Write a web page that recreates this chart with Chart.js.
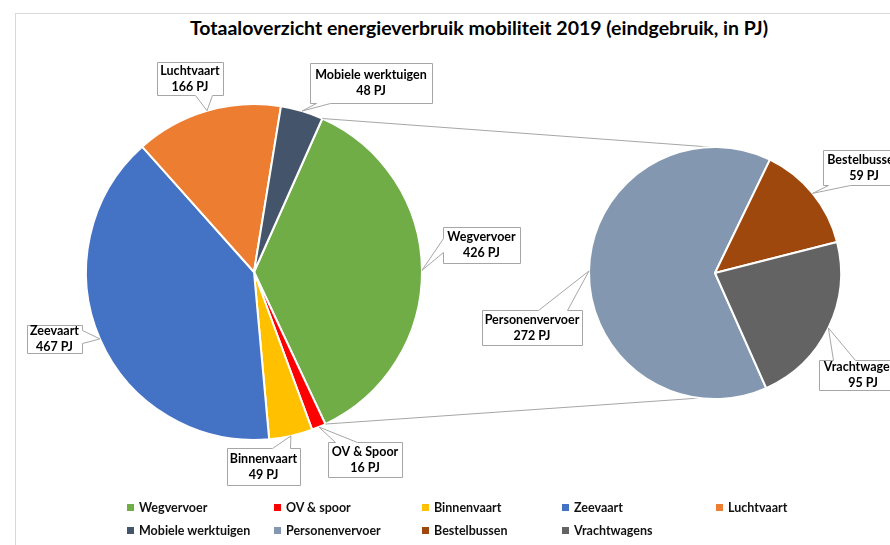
<!DOCTYPE html>
<html>
<head>
<meta charset="utf-8">
<script src="https://cdn.jsdelivr.net/npm/chart.js@4/dist/chart.umd.min.js"></script>
<style>
  html, body { margin: 0; padding: 0; background: #fff; }
  body { width: 890px; height: 545px; overflow: hidden; position: relative; font-family: Lato, "Liberation Sans", sans-serif; }
  #frame { position: absolute; left: 15px; top: 13px; width: 920px; height: 560px; border: 1px solid #d9d9d9; }
  #title { position: absolute; left: 0; top: 17px; width: 958px; text-align: center; font-weight: bold; font-size: 19.5px; line-height: 22px; color: #000; }
  canvas { position: absolute; left: 0; top: 0; }
  .item { position: absolute; font-size: 12.5px; font-weight: bold; line-height: 16px; color: #111; white-space: nowrap; }
  .item i { display: inline-block; width: 7px; height: 7px; margin-right: 5px; vertical-align: 1px; }
</style>
</head>
<body>
<div id="frame"></div>
<div id="title">Totaaloverzicht energieverbruik mobiliteit 2019 (eindgebruik, in PJ)</div>
<canvas id="mainPie" width="890" height="545"></canvas>
<canvas id="subPie" width="890" height="545"></canvas>
<div id="legend"></div>
<script>
// main pie
const mainLabels = ['Wegvervoer', 'OV & spoor', 'Binnenvaart', 'Zeevaart', 'Luchtvaart', 'Mobiele werktuigen'];
const mainCalloutNames = ['Wegvervoer', 'OV & Spoor', 'Binnenvaart', 'Zeevaart', 'Luchtvaart', 'Mobiele werktuigen'];
const mainValues = [426, 16, 49, 467, 166, 48];
const mainColors = ['#70AD47', '#FF0000', '#FFC000', '#4472C4', '#ED7D31', '#44546A'];

// split of Wegvervoer
const subLabels = ['Personenvervoer', 'Bestelbussen', 'Vrachtwagens'];
const subValues = [272, 59, 95];
const subColors = ['#8497B0', '#9E480E', '#636363'];

const unit = 'PJ';

// callout boxes: [x0, y0, x1, y1], side the pointer leaves from, and pointer base on that side
const mainBoxes = [
    { box: [443, 227, 520, 263], side: 'left', base: [238, 252] },
    { box: [328, 442, 402, 477], side: 'top', base: [335, 357] },
    { box: [227, 448, 300, 485], side: 'top', base: [272, 290] },
    { box: [27, 325, 82, 353], side: 'right', base: [330, 343] },
    { box: [157, 62, 223, 95], side: 'bottom', base: [195, 212] },
    { box: [310, 63, 432, 103], side: 'bottom', base: [316, 330] }
];
const subBoxes = [
    { box: [482, 310, 582, 345], side: 'top', base: [538, 567] },
    { box: [823, 150, 905, 185], side: 'bottom', base: [828, 850] },
    { box: [819, 360, 907, 390], side: 'top', base: [833, 855] }
];

function calloutPath(ctx, c, tip) {
    const [x0, y0, x1, y1] = c.box.map(v => v + 0.5);
    const [a, b] = c.base.slice().sort((p, q) => p - q).map(v => v + 0.5);
    ctx.beginPath();
    ctx.moveTo(x0, y0);
    if (c.side === 'top') { ctx.lineTo(a, y0); ctx.lineTo(tip.x, tip.y); ctx.lineTo(b, y0); }
    ctx.lineTo(x1, y0);
    if (c.side === 'right') { ctx.lineTo(x1, a); ctx.lineTo(tip.x, tip.y); ctx.lineTo(x1, b); }
    ctx.lineTo(x1, y1);
    if (c.side === 'bottom') { ctx.lineTo(b, y1); ctx.lineTo(tip.x, tip.y); ctx.lineTo(a, y1); }
    ctx.lineTo(x0, y1);
    if (c.side === 'left') { ctx.lineTo(x0, b); ctx.lineTo(tip.x, tip.y); ctx.lineTo(x0, a); }
    ctx.closePath();
}

const calloutPlugin = {
    id: 'callouts',
    afterDatasetsDraw(chart, args, opts) {
        const ctx = chart.ctx;
        const arcs = chart.getDatasetMeta(0).data;
        const values = chart.data.datasets[0].data;
        ctx.save();
        opts.boxes.forEach((c, i) => {
            const arc = arcs[i];
            const mid = (arc.startAngle + arc.endAngle) / 2;
            const tip = {
                x: arc.x + Math.cos(mid) * arc.outerRadius,
                y: arc.y + Math.sin(mid) * arc.outerRadius
            };
            calloutPath(ctx, c, tip);
            ctx.fillStyle = '#fff';
            ctx.fill();
            ctx.strokeStyle = '#a6a6a6';
            ctx.lineWidth = 1;
            ctx.stroke();

            const cx = (c.box[0] + c.box[2]) / 2;
            const cy = (c.box[1] + c.box[3]) / 2;
            ctx.fillStyle = '#000';
            ctx.font = 'bold 12.5px Lato, "Liberation Sans", sans-serif';
            ctx.textAlign = 'center';
            ctx.textBaseline = 'middle';
            ctx.fillText(opts.names[i], cx, cy - 8);
            ctx.fillText(values[i] + ' ' + unit, cx, cy + 8);
        });
        ctx.restore();
    }
};

let mainChart;

// lines from the Wegvervoer slice to the second pie
const connectorPlugin = {
    id: 'connectors',
    beforeDatasetsDraw(chart, args, opts) {
        const src = mainChart.getDatasetMeta(0).data[0];
        const dst = chart.getDatasetMeta(0).data[0];
        const ctx = chart.ctx;
        const pts = [
            [src.startAngle, opts.topAngle],
            [src.endAngle, opts.bottomAngle]
        ];
        ctx.save();
        ctx.strokeStyle = '#a6a6a6';
        ctx.lineWidth = 1;
        pts.forEach(([a, deg]) => {
            const b = (deg - 90) * Math.PI / 180;
            ctx.beginPath();
            ctx.moveTo(src.x + Math.cos(a) * src.outerRadius, src.y + Math.sin(a) * src.outerRadius);
            ctx.lineTo(dst.x + Math.cos(b) * dst.outerRadius, dst.y + Math.sin(b) * dst.outerRadius);
            ctx.stroke();
        });
        ctx.restore();
    }
};

mainChart = new Chart(document.getElementById('mainPie'), {
    type: 'pie',
    data: {
        labels: mainLabels,
        datasets: [{
            data: mainValues,
            backgroundColor: mainColors,
            borderColor: '#fff',
            borderWidth: 2,
            hoverOffset: 0,
            radius: 168
        }]
    },
    options: {
        responsive: false,
        animation: false,
        events: [],
        rotation: 24,
        layout: { padding: { left: 0, right: 382, top: 0, bottom: 1 } },
        plugins: {
            legend: { display: false },
            tooltip: { enabled: false },
            callouts: { boxes: mainBoxes, names: mainCalloutNames }
        }
    },
    plugins: [calloutPlugin]
});

new Chart(document.getElementById('subPie'), {
    type: 'pie',
    data: {
        labels: subLabels,
        datasets: [{
            data: subValues,
            backgroundColor: subColors,
            borderColor: '#fff',
            borderWidth: 2,
            hoverOffset: 0,
            radius: 126
        }]
    },
    options: {
        responsive: false,
        animation: false,
        events: [],
        rotation: 156,
        layout: { padding: { left: 540, right: 0, top: 1, bottom: 0 } },
        plugins: {
            legend: { display: false },
            tooltip: { enabled: false },
            callouts: { boxes: subBoxes, names: subLabels },
            connectors: { topAngle: 358, bottomAngle: 187 }
        }
    },
    plugins: [connectorPlugin, calloutPlugin]
});

// legend in Excel-like columns
const legendCols = [127, 274, 422, 562, 716];
const legendRows = [500, 523];
const legend = document.getElementById('legend');
mainLabels.concat(subLabels).forEach((name, i) => {
    const color = mainColors.concat(subColors)[i];
    const el = document.createElement('div');
    el.className = 'item';
    el.style.left = legendCols[i % 5] + 'px';
    el.style.top = legendRows[Math.floor(i / 5)] + 'px';
    el.innerHTML = '<i style="background:' + color + '"></i>';
    el.appendChild(document.createTextNode(name));
    legend.appendChild(el);
});
</script>
</body>
</html>
